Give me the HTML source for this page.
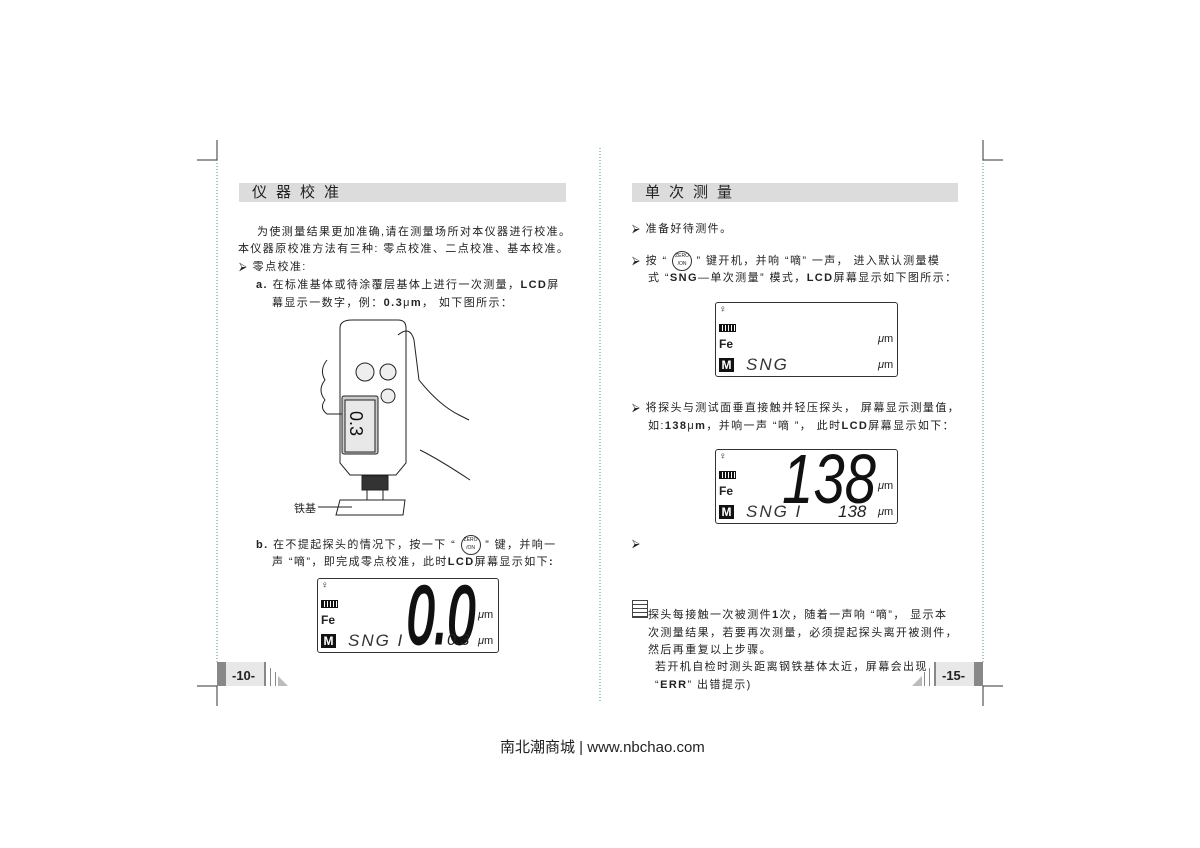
<!DOCTYPE html>
<html><head><meta charset="utf-8"><style>
body{margin:0;width:1200px;height:848px;background:#fff;position:relative;overflow:hidden;font-family:"Liberation Sans","Noto Sans CJK SC",sans-serif;color:#222}
.a{position:absolute;white-space:nowrap}
.t{font-size:11px;letter-spacing:1.4px}
.hdr{position:absolute;height:19px;background:#dcdcdc;font-size:15px;letter-spacing:9px;line-height:19px;padding-left:13px;box-sizing:border-box}
.lcd{position:absolute;border:1px solid #333;border-radius:3px;background:#fff}
.z{display:inline-block;width:18px;height:18px;border:1px solid #333;border-radius:50%;font-size:5px;line-height:8px;text-align:center;vertical-align:middle;letter-spacing:0}
</style></head><body>
<svg class="a" style="left:0;top:0" width="1200" height="848">
<g stroke="#333" stroke-width="1">
<line x1="197" y1="160" x2="217" y2="160"/><line x1="217" y1="140" x2="217" y2="160"/>
<line x1="197" y1="686" x2="217" y2="686"/><line x1="217" y1="686" x2="217" y2="706"/>
<line x1="983" y1="160" x2="1003" y2="160"/><line x1="983" y1="140" x2="983" y2="160"/>
<line x1="983" y1="686" x2="1003" y2="686"/><line x1="983" y1="686" x2="983" y2="706"/>
</g>
<g stroke="#4a9a5a" stroke-width="1" stroke-dasharray="1,2">
<line x1="217" y1="160" x2="217" y2="662"/><line x1="600" y1="148" x2="600" y2="702"/><line x1="983" y1="160" x2="983" y2="662"/>
</g>
<rect x="217" y="662" width="9" height="24" fill="#888"/><rect x="226" y="662" width="38" height="24" fill="#e8e8e8"/>
<rect x="264" y="662" width="2" height="24" fill="#888"/><rect x="270" y="668" width="1" height="18" fill="#888"/><rect x="275" y="672" width="1" height="14" fill="#888"/>
<polygon points="278,686 288,686 278,676" fill="#bbb"/>
<rect x="974" y="662" width="9" height="24" fill="#888"/><rect x="936" y="662" width="38" height="24" fill="#e8e8e8"/>
<rect x="934" y="662" width="2" height="24" fill="#888"/><rect x="929" y="668" width="1" height="18" fill="#888"/><rect x="924" y="672" width="1" height="14" fill="#888"/>
<polygon points="922,686 912,686 922,676" fill="#bbb"/>
<g fill="none" stroke="#222" stroke-width="1">
<path d="M352,320 h46 q8,0 8,8 v135 l-10,12 h-46 l-10,-12 v-135 q0,-8 12,-8z" fill="#fff"/>
<rect x="342" y="396" width="36" height="58" rx="2" fill="#ccc"/>
<rect x="345" y="400" width="30" height="52" fill="#e8e8e8"/>
<text x="349" y="428" font-size="18" fill="#111" stroke="none" transform="rotate(90 358 420)">0.3</text>
<circle cx="365" cy="372" r="9" fill="#eee"/><circle cx="388" cy="372" r="8" fill="#eee"/><circle cx="388" cy="396" r="7" fill="#eee"/>
<rect x="362" y="476" width="26" height="14" fill="#333"/>
<rect x="367" y="490" width="16" height="10"/>
<path d="M327,360 q-8,10 -2,20 q-8,10 0,20 q-6,8 2,14 l15,0"/>
<path d="M398,335 q12,-10 16,5 l5,40 q20,25 40,35 l10,5"/>
<path d="M420,450 q20,10 50,30"/>
<polygon points="340,500 405,500 403,515 336,515" fill="#fff"/>
<line x1="318" y1="507" x2="352" y2="507"/>
</g>
</svg>
<div class="a" style="left:294px;top:500px;font-size:11px">铁基</div>

<div class="hdr" style="left:239px;top:183px;width:327px">仪器校准</div>
<div class="hdr" style="left:632px;top:183px;width:326px">单次测量</div>

<div class="a t" style="left:257px;top:223px">为使测量结果更加准确,请在测量场所对本仪器进行校准。</div>
<div class="a t" style="left:238px;top:240px">本仪器原校准方法有三种: 零点校准、二点校准、基本校准。</div>
<div class="a t" style="left:239px;top:258px">⮚ 零点校准:</div>
<div class="a t" style="left:256px;top:276px"><b>a.</b> 在标准基体或待涂覆层基体上进行一次测量，<b>LCD</b>屏</div>
<div class="a t" style="left:272px;top:294px">幕显示一数字，例：<b>0.3</b>μ<b>m</b>， 如下图所示：</div>
<div class="a t" style="left:256px;top:535px"><b>b.</b> 在不提起探头的情况下，按一下 “ <span class="z">ZERO<br>/ON</span> ” 键，并响一</div>
<div class="a t" style="left:272px;top:553px">声 “嘀”，即完成零点校准，此时<b>LCD</b>屏幕显示如下<b>:</b></div>

<div class="a t" style="left:632px;top:220px">⮚ 准备好待测件。</div>
<div class="a t" style="left:632px;top:251px">⮚ 按 “ <span class="z">ZERO<br>/ON</span> ” 键开机，并响 “嘀” 一声， 进入默认测量模</div>
<div class="a t" style="left:648px;top:269px">式 “<b>SNG</b>—单次测量” 模式，<b>LCD</b>屏幕显示如下图所示：</div>
<div class="a t" style="left:632px;top:399px">⮚ 将探头与测试面垂直接触并轻压探头， 屏幕显示测量值，</div>
<div class="a t" style="left:648px;top:417px">如:<b>138</b>μ<b>m</b>，并响一声 “嘀 ”， 此时<b>LCD</b>屏幕显示如下：</div>
<div class="a t" style="left:632px;top:538px">⮚</div>
<div class="a" style="left:632px;top:600px;width:14px;height:16px;border:1px solid #444;background:repeating-linear-gradient(#fff 0 3px,#444 3px 4px)"></div>
<div class="a t" style="left:648px;top:606px">探头每接触一次被测件<b>1</b>次，随着一声响 “嘀”， 显示本</div>
<div class="a t" style="left:648px;top:624px">次测量结果，若要再次测量，必须提起探头离开被测件，</div>
<div class="a t" style="left:648px;top:641px">然后再重复以上步骤。</div>
<div class="a t" style="left:655px;top:658px">若开机自检时测头距离钢铁基体太近，屏幕会出现</div>
<div class="a t" style="left:655px;top:676px">“<b>ERR</b>” 出错提示)</div>

<div class="a" style="left:232px;top:668px;font-size:13px;font-weight:bold">-10-</div>
<div class="a" style="left:942px;top:668px;font-size:13px;font-weight:bold">-15-</div>

<div class="lcd" style="left:317px;top:578px;width:180px;height:73px">
<div class="a" style="left:3px;top:1px;font-size:10px">♀</div>
<div class="a" style="left:3px;top:21px;width:15px;height:6px;border:1px solid #111;background:repeating-linear-gradient(90deg,#111 0 2px,#fff 2px 3px)"></div>
<div class="a" style="left:3px;top:34px;font-size:12px;font-weight:bold">Fe</div>
<div class="a" style="left:3px;top:55px;width:15px;height:14px;background:#111;color:#fff;font-size:12px;font-weight:bold;text-align:center;line-height:14px">M</div>
<div class="a" style="left:30px;top:52px;font-size:17px;font-style:italic;color:#333;letter-spacing:2px">SNG I</div>
<svg class="a" style="left:0;top:0" width="180" height="73"><text x="89" y="64" font-size="82" font-style="italic" font-family="Liberation Sans" textLength="68" lengthAdjust="spacingAndGlyphs" fill="#111" stroke="#111" stroke-width="3">0.0</text></svg>
<div class="a" style="left:129px;top:53px;font-size:16px;font-style:italic">0.3</div>
<div class="a" style="left:160px;top:30px;font-size:11px"><i>μ</i>m</div>
<div class="a" style="left:160px;top:56px;font-size:11px"><i>μ</i>m</div>
</div>
<div class="lcd" style="left:715px;top:302px;width:181px;height:73px">
<div class="a" style="left:3px;top:1px;font-size:10px">♀</div>
<div class="a" style="left:3px;top:21px;width:15px;height:6px;border:1px solid #111;background:repeating-linear-gradient(90deg,#111 0 2px,#fff 2px 3px)"></div>
<div class="a" style="left:3px;top:34px;font-size:12px;font-weight:bold">Fe</div>
<div class="a" style="left:3px;top:55px;width:15px;height:14px;background:#111;color:#fff;font-size:12px;font-weight:bold;text-align:center;line-height:14px">M</div>
<div class="a" style="left:30px;top:52px;font-size:17px;font-style:italic;color:#333;letter-spacing:2px">SNG</div>
<div class="a" style="left:162px;top:30px;font-size:11px"><i>μ</i>m</div>
<div class="a" style="left:162px;top:56px;font-size:11px"><i>μ</i>m</div>
</div>
<div class="lcd" style="left:715px;top:449px;width:181px;height:73px">
<div class="a" style="left:3px;top:1px;font-size:10px">♀</div>
<div class="a" style="left:3px;top:21px;width:15px;height:6px;border:1px solid #111;background:repeating-linear-gradient(90deg,#111 0 2px,#fff 2px 3px)"></div>
<div class="a" style="left:3px;top:34px;font-size:12px;font-weight:bold">Fe</div>
<div class="a" style="left:3px;top:55px;width:15px;height:14px;background:#111;color:#fff;font-size:12px;font-weight:bold;text-align:center;line-height:14px">M</div>
<div class="a" style="left:30px;top:52px;font-size:17px;font-style:italic;color:#333;letter-spacing:2px">SNG I</div>
<svg class="a" style="left:0;top:0" width="181" height="73"><text x="66" y="53" font-size="70" font-style="italic" font-family="Liberation Sans" textLength="94" lengthAdjust="spacingAndGlyphs" fill="#111">138</text></svg>
<div class="a" style="left:122px;top:52px;font-size:17px;font-style:italic">138</div>
<div class="a" style="left:162px;top:30px;font-size:11px"><i>μ</i>m</div>
<div class="a" style="left:162px;top:56px;font-size:11px"><i>μ</i>m</div>
</div>

<div class="a" style="left:500px;top:736px;font-size:15px;color:#222">南北潮商城 | www.nbchao.com</div>
</body></html>
